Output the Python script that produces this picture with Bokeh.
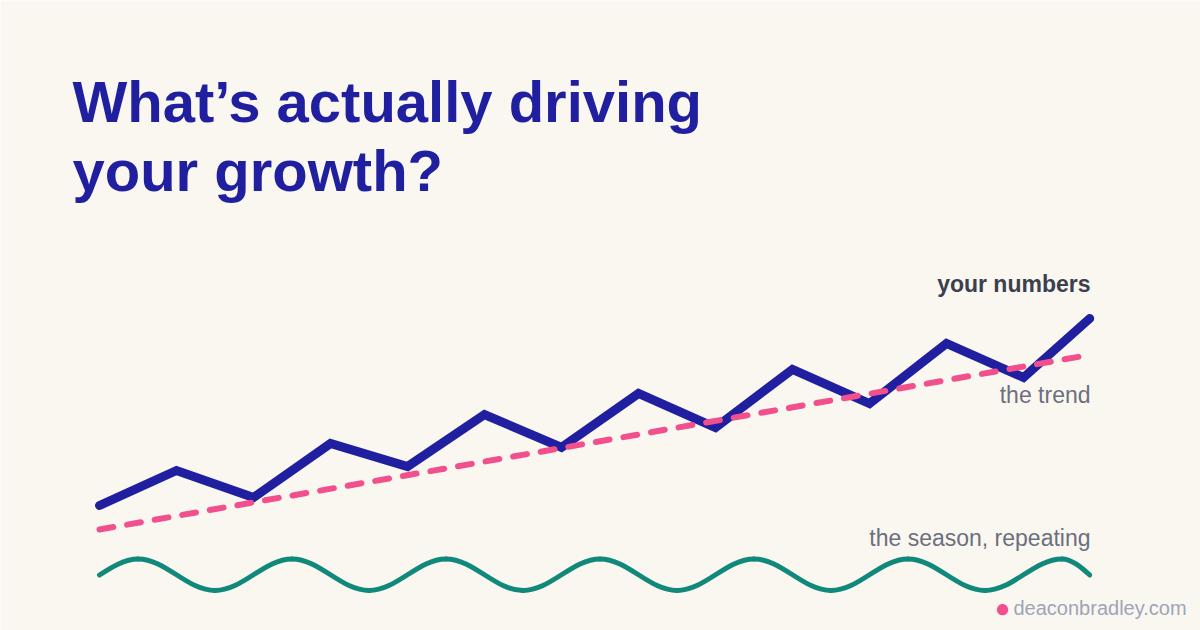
import math

from bokeh.plotting import figure
from bokeh.models import Range1d, Label
from bokeh.embed import file_html
from bokeh.resources import INLINE

# ---- data -------------------------------------------------------------
# x: period index, y: level (arbitrary units)
numbers_x = [0, 1, 2, 3, 4, 5, 6, 7, 8, 9, 10, 11, 12, 12.86]
numbers_y = [125, 160, 133, 187, 164, 216, 183, 237, 203, 261, 227, 287, 253, 312]

trend_x = [0, 12.74]
trend_y = [101, 274]

# seasonal component: start, alternating peaks / troughs, end
season_x = [0, 0.5, 1.5, 2.5, 3.5, 4.5, 5.5, 6.5, 7.5, 8.5, 9.5, 10.5, 11.5, 12.5, 12.86]
season_y = [55.5, 71.5, 40, 71.5, 40, 71.5, 40, 71.5, 40, 71.5, 40, 71.5, 40, 71.5, 55.5]

title_lines = ["What\u2019s actually driving", "your growth?"]
label_numbers = "your numbers"
label_trend = "the trend"
label_season = "the season, repeating"
footer = "deaconbradley.com"

# ---- style ------------------------------------------------------------
BG = "#faf7f1"
NAVY = "#1f1f9f"
PINK = "#f2508d"
TEAL = "#11897a"
DARK = "#3b3f4e"
GREY = "#6c6f7e"
LIGHT = "#a0a4b6"
FONT = "Liberation Sans"

W, H = 1200, 630

p = figure(
    width=W, height=H,
    x_range=Range1d(-99 / 77, 1101 / 77),
    y_range=Range1d(0, 630),
    output_backend="svg",
    toolbar_location=None,
    min_border=0,
)
p.axis.visible = False
p.grid.visible = False
p.outline_line_color = None
p.background_fill_color = BG
p.border_fill_color = BG

# seasonal wave: smooth cubic segments between successive extrema
bx0, by0, bx1, by1, cx0, cy0, cx1, cy1 = [], [], [], [], [], [], [], []
n = len(season_x)
for k in range(n - 1):
    x0, y0, x1, y1 = season_x[k], season_y[k], season_x[k + 1], season_y[k + 1]
    L = x1 - x0
    dy = y1 - y0
    if k == 0:
        c0 = (x0 + 0.30 * L, y0 + 0.30 * math.pi / 2 * dy)
        c1 = (x1 - 0.35 * L, y1)
    elif k == n - 2:
        c0 = (x0 + 0.35 * L, y0)
        c1 = (x1 - 0.30 * L, y1 - 0.30 * math.pi / 2 * dy)
    else:
        c0 = (x0 + 0.364 * L, y0)
        c1 = (x1 - 0.364 * L, y1)
    bx0.append(x0); by0.append(y0); bx1.append(x1); by1.append(y1)
    cx0.append(c0[0]); cy0.append(c0[1]); cx1.append(c1[0]); cy1.append(c1[1])

p.bezier(x0=bx0, y0=by0, x1=bx1, y1=by1, cx0=cx0, cy0=cy0, cx1=cx1, cy1=cy1,
         line_color=TEAL, line_width=5, line_cap="round")

# your numbers
p.line(numbers_x, numbers_y, line_color=NAVY, line_width=9,
       line_join="miter", line_cap="round")

# trend
p.line(trend_x, trend_y, line_color=PINK, line_width=6,
       line_dash="14 14", line_cap="round")

# ---- text -------------------------------------------------------------
def add_label(text, x, y, size, color, align="left", style="normal", baseline="alphabetic"):
    p.add_layout(Label(
        x=x, y=y, x_units="screen", y_units="screen", text=text,
        text_font=FONT, text_font_size=size, text_color=color,
        text_font_style=style, text_align=align, text_baseline=baseline,
    ))

add_label(title_lines[0], 72, H - 101, "58px", NAVY, style="bold")
add_label(title_lines[1], 72, H - 170, "58px", NAVY, style="bold")

add_label(label_numbers, 1090, H - 283, "23px", DARK, align="right", style="bold")
add_label(label_trend, 1090, H - 394, "23px", GREY, align="right")
add_label(label_season, 1090, H - 537, "23px", GREY, align="right")

add_label("\u25cf", 1002, H - 607.5, "26px", PINK, align="center", baseline="middle")
add_label(footer, 1013, H - 607, "20px", LIGHT)

open("out.html", "w").write(file_html(p, INLINE))
